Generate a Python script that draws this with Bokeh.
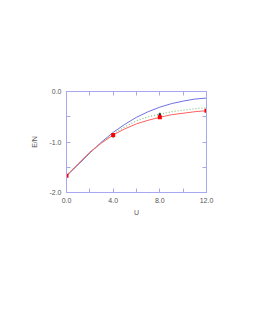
from bokeh.plotting import figure
from bokeh.embed import file_html
from bokeh.resources import INLINE
from bokeh.models import FixedTicker, LinearAxis, PrintfTickFormatter, Range1d

u_curve = [0, 1, 2, 3, 4, 5, 6, 7, 8, 9, 10, 11, 12]
blue_en = [-1.67, -1.45, -1.22, -1.00, -0.81, -0.65, -0.51, -0.40, -0.31, -0.24, -0.19, -0.15, -0.13]
green_en = [-1.67, -1.44, -1.21, -1.01, -0.84, -0.70, -0.58, -0.50, -0.45, -0.40, -0.37, -0.34, -0.32]
red_en = [-1.67, -1.43, -1.20, -1.02, -0.86, -0.74, -0.64, -0.57, -0.51, -0.46, -0.43, -0.40, -0.38]

u_red_pts = [0, 4, 8, 12]
red_pts = [-1.67, -0.86, -0.51, -0.38]

u_black = [4, 8]
black_en = [-0.88, -0.46]
black_err = [0.03, 0.04]

x_ticks = [0, 4, 8, 12]
x_minor = [2, 6, 10]
y_ticks = [-2, -1, 0]
y_minor = [-1.5, -0.5]

frame_col = "#a8a8f0"
font = "Liberation Sans"
lab_col = "#555555"

p = figure(frame_width=140, frame_height=101,
           output_backend="svg", toolbar_location=None,
           x_range=Range1d(0, 12), y_range=Range1d(-2, 0),
           min_border_left=66, min_border_top=91, min_border_right=40,
           min_border_bottom=100, x_axis_label="U", y_axis_label="E/N")
p.grid.visible = False
p.outline_line_color = frame_col
p.outline_line_width = 1
p.background_fill_color = "white"
p.border_fill_color = "white"

def style(ax, ticks, minor, labels=True):
    ax.ticker = FixedTicker(ticks=ticks, minor_ticks=minor)
    ax.axis_line_color = frame_col
    ax.major_tick_line_color = frame_col
    ax.minor_tick_line_color = frame_col
    ax.major_tick_in = 4
    ax.major_tick_out = 0
    ax.minor_tick_in = 4
    ax.minor_tick_out = 0
    ax.major_label_text_font = font
    ax.major_label_text_font_size = "7px"
    ax.major_label_text_color = lab_col
    ax.axis_label_text_font = font
    ax.axis_label_text_font_size = "7px"
    ax.axis_label_text_color = lab_col
    ax.axis_label_text_font_style = "normal"
    ax.formatter = PrintfTickFormatter(format="%.1f")
    if not labels:
        ax.major_label_overrides = {t: "" for t in ticks}
        ax.major_label_standoff = 0

style(p.xaxis[0], x_ticks, x_minor)
style(p.yaxis[0], y_ticks, y_minor)
p.xaxis[0].major_label_standoff = 5
p.xaxis[0].axis_label_standoff = 3
p.yaxis[0].major_label_standoff = 5
p.yaxis[0].axis_label_standoff = 8

top = LinearAxis()
style(top, x_ticks, x_minor, labels=False)
p.add_layout(top, "above")
right = LinearAxis()
style(right, y_ticks, y_minor, labels=False)
p.add_layout(right, "right")

p.line(u_curve, blue_en, line_color="#7070e0", line_width=1)
p.line(u_curve, green_en, line_color="#80c080", line_width=1.2, line_dash="1 2")
p.line(u_curve, red_en, line_color="#ff6060", line_width=1)

p.segment(x0=u_black, y0=[b - e for b, e in zip(black_en, black_err)],
          x1=u_black, y1=[b + e for b, e in zip(black_en, black_err)],
          line_color="#333333", line_width=1)
p.scatter(u_black, black_en, marker="square", size=2.5, fill_color="#333333", line_color=None)
p.scatter(u_red_pts, red_pts, marker="square", size=4, fill_color="#ff0000", line_color=None)

open("out.html", "w").write(file_html(p, INLINE))
